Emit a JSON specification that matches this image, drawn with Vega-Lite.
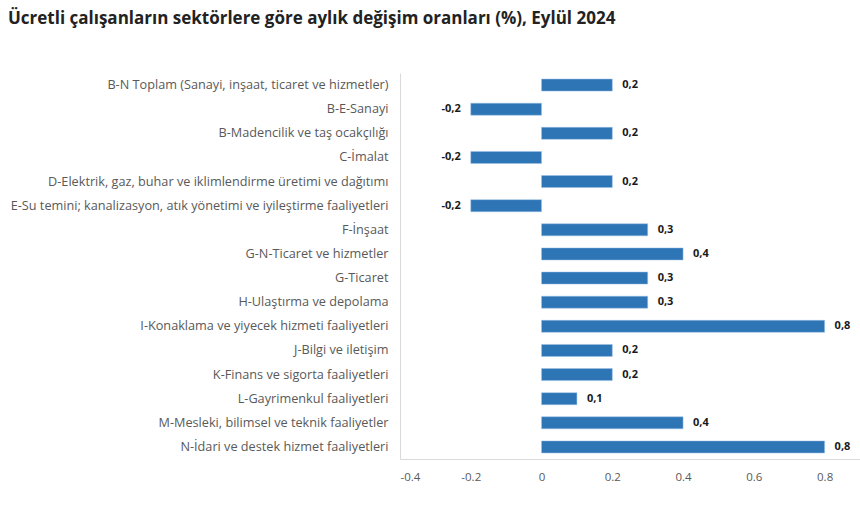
{
  "$schema": "https://vega.github.io/schema/vega-lite/v6.json",
  "width": 460,
  "height": 386,
  "autosize": {"type": "none"},
  "padding": {"left": 400, "top": 73, "right": 0, "bottom": 46},
  "background": "white",
  "config": {
    "view": {"stroke": null},
    "locale": {"number": {"decimal": ",", "thousands": ".", "grouping": [3], "currency": ["", " TL"], "minus": "-"}},
    "font": "Open Sans"
  },
  "title": {
    "text": "Ücretli çalışanların sektörlere göre aylık değişim oranları (%), Eylül 2024",
    "anchor": "start",
    "frame": "group",
    "dx": -392,
    "offset": 45,
    "fontSize": 17,
    "fontWeight": "bold",
    "color": "#222222",
    "font": "Open Sans"
  },
  "data": {
    "values": [
      {"sektor": "B-N Toplam (Sanayi, inşaat, ticaret ve hizmetler)", "deger": 0.2},
      {"sektor": "B-E-Sanayi", "deger": -0.2},
      {"sektor": "B-Madencilik ve taş ocakçılığı", "deger": 0.2},
      {"sektor": "C-İmalat", "deger": -0.2},
      {"sektor": "D-Elektrik, gaz, buhar ve iklimlendirme üretimi ve dağıtımı", "deger": 0.2},
      {"sektor": "E-Su temini; kanalizasyon, atık yönetimi ve iyileştirme faaliyetleri", "deger": -0.2},
      {"sektor": "F-İnşaat", "deger": 0.3},
      {"sektor": "G-N-Ticaret ve hizmetler", "deger": 0.4},
      {"sektor": "G-Ticaret", "deger": 0.3},
      {"sektor": "H-Ulaştırma ve depolama", "deger": 0.3},
      {"sektor": "I-Konaklama ve yiyecek hizmeti faaliyetleri", "deger": 0.8},
      {"sektor": "J-Bilgi ve iletişim", "deger": 0.2},
      {"sektor": "K-Finans ve sigorta faaliyetleri", "deger": 0.2},
      {"sektor": "L-Gayrimenkul faaliyetleri", "deger": 0.1},
      {"sektor": "M-Mesleki, bilimsel ve teknik faaliyetler", "deger": 0.4},
      {"sektor": "N-İdari ve destek hizmet faaliyetleri", "deger": 0.8}
    ]
  },
  "encoding": {
    "y": {
      "field": "sektor",
      "type": "nominal",
      "sort": null,
      "title": null,
      "scale": {"paddingInner": 0.5, "paddingOuter": 0.25},
      "axis": {
        "domain": true,
        "domainColor": "#d9d9d9",
        "ticks": false,
        "labelPadding": 12,
        "labelFontSize": 12.7,
        "labelColor": "#595959",
        "labelLimit": 420,
        "labelFont": "Open Sans"
      }
    },
    "x": {
      "field": "deger",
      "type": "quantitative",
      "title": null,
      "scale": {"domain": [-0.4, 0.9], "nice": false},
      "axis": {
        "values": [-0.4, -0.2, 0, 0.2, 0.4, 0.6, 0.8],
        "labelExpr": "toString(datum.value)",
        "grid": false,
        "ticks": false,
        "domain": true,
        "domainColor": "#d9d9d9",
        "labelPadding": 12,
        "labelFontSize": 11.5,
        "labelColor": "#595959",
        "labelFont": "Open Sans"
      }
    }
  },
  "layer": [
    {
      "mark": {"type": "bar", "color": "#2E75B6", "stroke": "#9DC3E6", "strokeWidth": 0.5}
    },
    {
      "mark": {
        "type": "text",
        "fontWeight": "bold",
        "fontSize": 11,
        "color": "#1a1a1a",
        "align": {"expr": "datum.deger < 0 ? 'right' : 'left'"},
        "dx": {"expr": "datum.deger < 0 ? -10 : 10"},
        "baseline": "middle"
      },
      "encoding": {
        "text": {"field": "deger", "type": "quantitative", "format": ".1f"}
      }
    }
  ]
}
